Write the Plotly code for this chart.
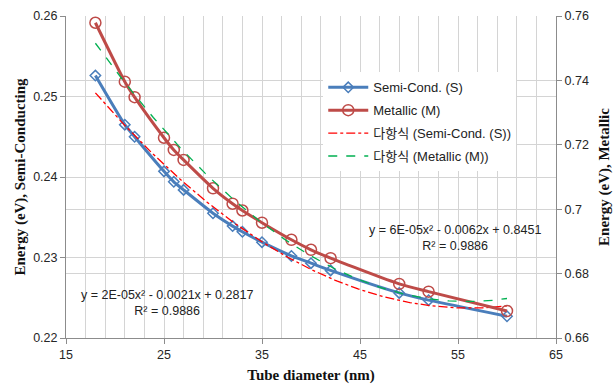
import numpy as np
import plotly.graph_objects as go

diameter = [18, 21, 22, 25, 26, 27, 30, 32, 33, 35, 38, 40, 42, 49, 52, 60]
semi_energy = [0.2526, 0.2465, 0.2450, 0.2407, 0.2394, 0.2384, 0.2355, 0.2339,
               0.2332, 0.2319, 0.2302, 0.2293, 0.2284, 0.2256, 0.2247, 0.2227]
metal_energy = [0.7579, 0.7396, 0.7348, 0.7222, 0.7184, 0.7153, 0.7065, 0.7017,
                0.6996, 0.6958, 0.6905, 0.6874, 0.6848, 0.6768, 0.6744, 0.6684]

semi_eq = "y = 2E-05x² - 0.0021x + 0.2817<br>R² = 0.9886"
metal_eq = "y = 6E-05x² - 0.0062x + 0.8451<br>R² = 0.9886"

# polynomial (order 2) trendlines fitted to the data, as in the source chart
xs = np.linspace(min(diameter), max(diameter), 200)
semi_fit = np.polyval(np.polyfit(diameter, semi_energy, 2), xs)
metal_fit = np.polyval(np.polyfit(diameter, metal_energy, 2), xs)

BASE = "Liberation Sans, Noto Sans CJK KR, sans-serif"
SERIF = "Liberation Serif, DejaVu Serif, serif"
GRID = "#d4d4d4"
AXIS = "#8c8c8c"

fig = go.Figure()
fig.add_trace(go.Scatter(
    x=diameter, y=semi_energy, name="Semi-Cond. (S)", mode="lines+markers",
    legendgroup="a",
    line=dict(color="#4A7EBB", width=3, shape="spline", smoothing=0.6),
    marker=dict(symbol="diamond-open", size=8, color="#4A7EBB", line=dict(width=1.5)),
    yaxis="y"))
fig.add_trace(go.Scatter(
    x=diameter, y=metal_energy, name="Metallic (M)", mode="lines+markers",
    legendgroup="b",
    line=dict(color="#BE4B48", width=3, shape="spline", smoothing=0.6),
    marker=dict(symbol="circle-open", size=11, color="#BE4B48", line=dict(width=1.5)),
    yaxis="y2"))
fig.add_trace(go.Scatter(
    x=xs, y=semi_fit, name="다항식 (Semi-Cond. (S))", mode="lines",
    legendgroup="c",
    line=dict(color="#FF0000", width=1.3, dash="dashdot"), yaxis="y"))
fig.add_trace(go.Scatter(
    x=xs, y=metal_fit, name="다항식 (Metallic (M))", mode="lines",
    legendgroup="d",
    line=dict(color="#00B050", width=1.3, dash="dash"), yaxis="y2"))

fig.add_annotation(x=25.3, y=0.2243, xref="x", yref="y", text=semi_eq,
                   showarrow=False, align="center",
                   font=dict(family=BASE, size=12.5, color="#222"))
fig.add_annotation(x=54.7, y=0.6910, xref="x", yref="y2", text=metal_eq,
                   showarrow=False, align="center",
                   font=dict(family=BASE, size=12.5, color="#222"))

fig.update_layout(
    width=614, height=386,
    margin=dict(l=66, r=58, t=16, b=48),
    paper_bgcolor="white", plot_bgcolor="white",
    font=dict(family=BASE, size=12.5, color="#262626"),
    legend=dict(x=0.525, y=0.825, xanchor="left", yanchor="top",
                bgcolor="white", font=dict(family=BASE, size=13, color="#222"),
                traceorder="grouped", tracegroupgap=3, itemwidth=40),
    xaxis=dict(range=[15, 65], tick0=15, dtick=10, showgrid=True, gridcolor=GRID,
               minor=dict(tick0=15, dtick=2, showgrid=True, gridcolor=GRID, ticks=""),
               showline=True, linecolor=AXIS, ticks="outside", ticklen=5,
               tickcolor=AXIS, zeroline=False, automargin=False,
               title=dict(text="<b>Tube diameter (nm)</b>", standoff=8,
                          font=dict(family=SERIF, size=15, color="#111"))),
    yaxis=dict(range=[0.22, 0.26], dtick=0.01, tickformat=".2f", showgrid=True,
               gridcolor=GRID, showline=True, linecolor=AXIS, ticks="outside",
               ticklen=5, tickcolor=AXIS, zeroline=False, automargin=False,
               title=dict(text="<b>Energy (eV), Semi-Conducting</b>", standoff=3,
                          font=dict(family=SERIF, size=15, color="#111"))),
    yaxis2=dict(range=[0.66, 0.76], dtick=0.02, overlaying="y", side="right",
                showgrid=True, gridcolor=GRID, showline=True, linecolor=AXIS,
                ticks="outside", ticklen=5, tickcolor=AXIS, zeroline=False,
                automargin=False,
                title=dict(text="<b>Energy (eV), Metallic</b>", standoff=10,
                           font=dict(family=SERIF, size=15, color="#111"))),
)

fig.write_html("out.html")
